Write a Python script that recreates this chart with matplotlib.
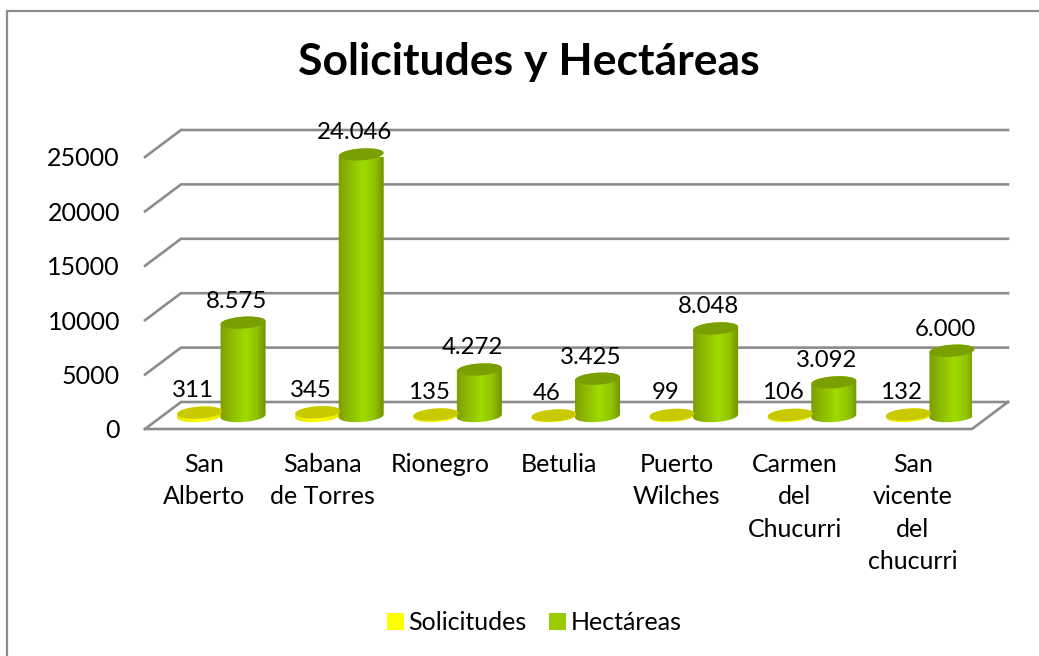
import matplotlib
matplotlib.use('Agg')
import matplotlib.pyplot as plt
from matplotlib.lines import Line2D
from matplotlib.patches import Patch, Polygon
from matplotlib.colors import LinearSegmentedColormap
import numpy as np

plt.rcParams['font.family'] = ['Lato', 'DejaVu Sans']

municipios = ['San\nAlberto', 'Sabana\nde Torres', 'Rionegro', 'Betulia', 'Puerto\nWilches',
              'Carmen\ndel\nChucurri', 'San\nvicente\ndel\nchucurri']
solicitudes = [311, 345, 135, 46, 99, 106, 132]
hectareas = [8575, 24046, 4272, 3425, 8048, 3092, 6000]
etiquetas_hect = ['8.575', '24.046', '4.272', '3.425', '8.048', '3.092', '6.000']
ticks = [0, 5000, 10000, 15000, 20000, 25000]

W, H = 1039, 656
GRIS = '#8c8c8c'

fig = plt.figure(figsize=(W / 100, H / 100), dpi=100)
# axes = the front plane of the fake 3D box
ax = fig.add_axes([145 / W, 1 - 429 / H, 827 / W, 272 / H])
ax.set_xlim(-0.5, 6.5)
ax.set_ylim(0, 25000)

# pixel sizes turned into data units
px_x = 7 / 827
px_y = 25000 / 272


def ellipse(cx, cy, a=22.5, b=6, skew=1.5, t0=0, t1=2 * np.pi):
    t = np.linspace(t0, t1, 60)
    xs = cx + a * px_x * np.cos(t)
    ys = cy + (b * np.sin(t) + skew * np.cos(t)) * px_y
    return np.column_stack([xs, ys])


def cylinder(x, value, cmap, top_color):
    base = 13 * px_y
    low = ellipse(x, base, t0=np.pi, t1=2 * np.pi)
    high = ellipse(x, base + value, t0=0, t1=np.pi)
    body = Polygon(np.vstack([low, high]), closed=True, fc='none', ec='none', zorder=3)
    ax.add_patch(body)
    grad = np.linspace(0, 1, 128).reshape(1, -1)
    im = ax.imshow(grad, cmap=cmap, extent=[x - 23 * px_x, x + 23 * px_x, 0, base + value + 10 * px_y],
                   aspect='auto', zorder=3, clip_on=True)
    im.set_clip_path(body)
    ax.add_patch(Polygon(ellipse(x, base + value), closed=True, fc=top_color, ec='none', zorder=4, clip_on=False))


verde = LinearSegmentedColormap.from_list('verde', [(0, '#7c9f00'), (0.25, '#8fbb00'), (0.55, '#9fdb00'),
                                                    (0.8, '#92c200'), (1, '#6f9200')])
amarillo = LinearSegmentedColormap.from_list('amarillo', ['#e6e600', '#ffff00', '#e6e600'])

# walls and floor
dx = 36 * px_x
dy = 27 * px_y
for t in ticks:
    ax.plot([-0.5, -0.5 + dx, 6.5 + dx], [t, t + dy, t + dy], color=GRIS, lw=1.9, zorder=1, clip_on=False,
            solid_joinstyle='miter')
ax.plot([-0.5, 6.5, 6.5 + dx], [0, 0, dy], color=GRIS, lw=1.9, zorder=1, clip_on=False)

x_sol = np.arange(7) - 4.5 * px_x
x_hec = np.arange(7) + 39 * px_x
for i in range(7):
    cylinder(x_sol[i], solicitudes[i], amarillo, '#c9c900')
    cylinder(x_hec[i], hectareas[i], verde, '#7a9f00')
    ax.annotate(str(solicitudes[i]), (x_sol[i], solicitudes[i] + 13 * px_y), xytext=(-5, 16), textcoords='offset points',
                ha='center', va='center', fontsize=17.3, color='black', zorder=6, annotation_clip=False)
    ax.annotate(etiquetas_hect[i], (x_hec[i], hectareas[i] + 13 * px_y), xytext=(-5, 15.5), textcoords='offset points',
                ha='center', va='center', fontsize=17.3, color='black', zorder=6, annotation_clip=False)
ax.set_xlim(-0.5, 6.5)
ax.set_ylim(0, 25000)

ax.set_yticks(ticks)
ax.set_xticks(range(7))
ax.set_xticklabels(municipios, linespacing=1.5)
ax.tick_params(axis='y', length=0, pad=18, labelsize=18)
ax.tick_params(axis='x', length=0, pad=17, labelsize=18)
for s in ax.spines.values():
    s.set_visible(False)
ax.patch.set_alpha(0)

fig.text(529 / W, 1 - 62 / H, 'Solicitudes y Hectáreas', fontsize=32, fontweight='bold', ha='center', va='center')

# chart border: only top and left show in the crop
fig.add_artist(Line2D([6.5 / W, 6.5 / W, 1], [0, 1 - 11 / H, 1 - 11 / H], color=GRIS, lw=1.6,
                      solid_joinstyle='miter'))

handles = [Patch(fc='#ffff00', label='Solicitudes'), Patch(fc='#99cc00', label='Hectáreas')]
fig.legend(handles=handles, loc='center', bbox_to_anchor=(534.5 / W, 1 - 623 / H), ncol=2, frameon=False,
           fontsize=18, handlelength=0.65, handleheight=0.65, handletextpad=0.2, columnspacing=0.9)

fig.savefig('out.png', dpi=100)
